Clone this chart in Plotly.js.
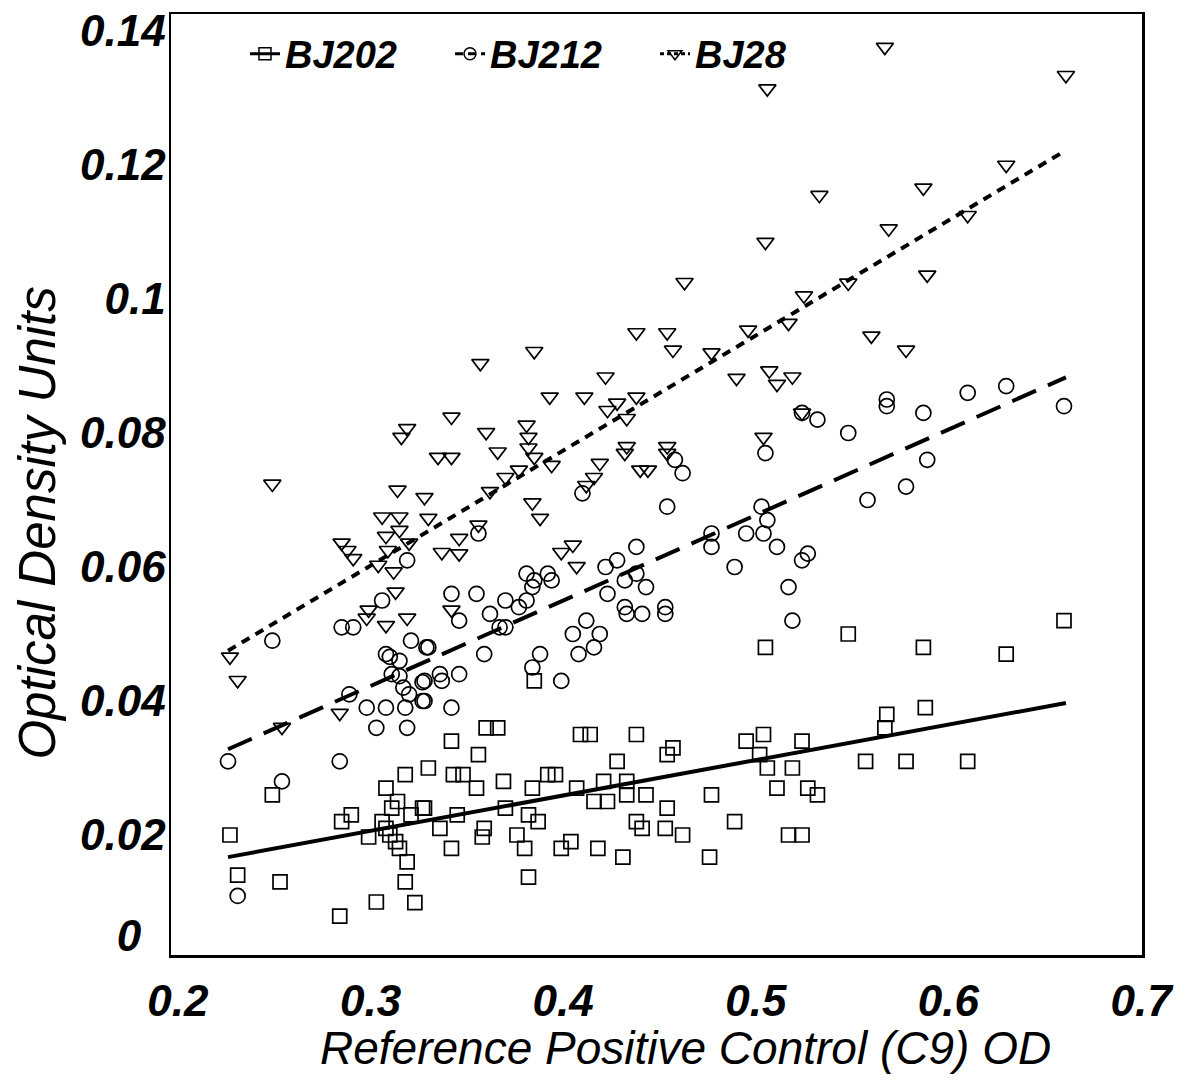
<!DOCTYPE html>
<html><head><meta charset="utf-8">
<script src="https://cdn.plot.ly/plotly-3.0.1.min.js"></script>
<style>html,body{margin:0;padding:0;background:#fff}</style>
</head><body><div id="chart" style="width:1192px;height:1088px"></div>
<script>
const seriesNames = ['BJ202', 'BJ212', 'BJ28'];
const xTitle = 'Reference Positive Control (C9) OD';
const yTitle = 'Optical Density Units';

const bj202X = [0.227,0.231,0.253,0.249,0.284,0.303,0.323,0.285,0.290,0.299,0.308,0.318,0.330,0.314,0.311,0.327,0.321,0.306,0.308,0.310,0.313,0.315,0.319,0.318,0.360,0.366,0.342,0.356,0.343,0.348,0.355,0.369,0.384,0.392,0.396,0.328,0.345,0.336,0.370,0.382,0.387,0.359,0.358,0.342,0.376,0.380,0.382,0.399,0.404,0.418,0.431,0.407,0.416,0.423,0.421,0.433,0.433,0.443,0.409,0.414,0.438,0.428,0.454,0.457,0.438,0.441,0.453,0.454,0.462,0.385,0.505,0.548,0.587,0.630,0.660,0.588,0.568,0.567,0.504,0.495,0.502,0.524,0.506,0.519,0.557,0.578,0.610,0.511,0.527,0.532,0.477,0.489,0.517,0.524,0.476];
const bj202Y = [0.0200,0.0140,0.0130,0.0260,0.0079,0.0100,0.0099,0.0220,0.0230,0.0197,0.0270,0.0290,0.0300,0.0250,0.0240,0.0240,0.0230,0.0220,0.0210,0.0200,0.0190,0.0180,0.0160,0.0130,0.0360,0.0360,0.0340,0.0320,0.0290,0.0290,0.0270,0.0280,0.0270,0.0290,0.0290,0.0240,0.0230,0.0210,0.0240,0.0230,0.0220,0.0210,0.0197,0.0180,0.0200,0.0180,0.0137,0.0180,0.0190,0.0180,0.0167,0.0270,0.0250,0.0250,0.0280,0.0280,0.0260,0.0260,0.0350,0.0350,0.0350,0.0310,0.0320,0.0330,0.0220,0.0210,0.0210,0.0240,0.0200,0.0430,0.0480,0.0500,0.0480,0.0470,0.0520,0.0390,0.0380,0.0360,0.0350,0.0340,0.0320,0.0340,0.0300,0.0300,0.0310,0.0310,0.0310,0.0270,0.0270,0.0260,0.0260,0.0220,0.0200,0.0200,0.0167];

const bj212X = [0.226,0.231,0.254,0.284,0.289,0.298,0.303,0.308,0.319,0.318,0.310,0.315,0.311,0.315,0.317,0.320,0.327,0.327,0.249,0.285,0.291,0.306,0.319,0.321,0.308,0.329,0.410,0.454,0.458,0.462,0.356,0.342,0.355,0.346,0.362,0.370,0.377,0.381,0.381,0.385,0.384,0.392,0.394,0.367,0.370,0.330,0.359,0.388,0.405,0.412,0.419,0.416,0.408,0.422,0.428,0.438,0.423,0.432,0.438,0.443,0.432,0.433,0.441,0.453,0.453,0.384,0.399,0.346,0.336,0.328,0.337,0.328,0.342,0.524,0.532,0.548,0.568,0.568,0.587,0.610,0.630,0.660,0.505,0.589,0.578,0.558,0.503,0.506,0.495,0.504,0.511,0.527,0.524,0.477,0.477,0.489,0.517,0.519];
const bj212Y = [0.0310,0.0109,0.0280,0.0310,0.0410,0.0390,0.0360,0.0390,0.0360,0.0390,0.0466,0.0460,0.0440,0.0437,0.0420,0.0410,0.0428,0.0400,0.0490,0.0510,0.0510,0.0550,0.0610,0.0490,0.0470,0.0480,0.0710,0.0690,0.0760,0.0740,0.0650,0.0560,0.0560,0.0520,0.0530,0.0550,0.0540,0.0550,0.0590,0.0580,0.0570,0.0590,0.0580,0.0510,0.0510,0.0480,0.0470,0.0470,0.0500,0.0520,0.0500,0.0480,0.0470,0.0600,0.0610,0.0630,0.0560,0.0580,0.0590,0.0570,0.0540,0.0530,0.0530,0.0540,0.0530,0.0450,0.0430,0.0440,0.0440,0.0430,0.0430,0.0400,0.0390,0.0830,0.0820,0.0800,0.0850,0.0840,0.0830,0.0860,0.0870,0.0840,0.0770,0.0760,0.0720,0.0700,0.0690,0.0670,0.0650,0.0650,0.0630,0.0620,0.0610,0.0630,0.0650,0.0600,0.0570,0.0520];

const bj28X = [0.567,0.661,0.506,0.533,0.587,0.630,0.610,0.569,0.505,0.463,0.589,0.548,0.525,0.560,0.517,0.578,0.496,0.477,0.490,0.507,0.511,0.519,0.524,0.504,0.385,0.357,0.438,0.454,0.457,0.422,0.393,0.411,0.438,0.428,0.423,0.433,0.342,0.360,0.381,0.382,0.382,0.385,0.366,0.335,0.342,0.394,0.377,0.370,0.362,0.433,0.432,0.454,0.454,0.440,0.444,0.419,0.416,0.412,0.384,0.388,0.328,0.330,0.356,0.346,0.337,0.346,0.399,0.405,0.407,0.342,0.319,0.316,0.249,0.314,0.306,0.315,0.315,0.308,0.309,0.320,0.285,0.288,0.291,0.304,0.312,0.313,0.299,0.298,0.308,0.319,0.227,0.231,0.254,0.284];
const bj28Y = [0.1376,0.1334,0.1314,0.1155,0.1166,0.1200,0.1125,0.1105,0.1085,0.1025,0.1036,0.1024,0.1005,0.0945,0.0964,0.0924,0.0954,0.0920,0.0882,0.0893,0.0873,0.0884,0.0830,0.0794,0.0922,0.0904,0.0950,0.0950,0.0924,0.0884,0.0854,0.0854,0.0854,0.0845,0.0834,0.0822,0.0824,0.0801,0.0812,0.0794,0.0778,0.0764,0.0772,0.0764,0.0764,0.0752,0.0745,0.0734,0.0713,0.0780,0.0770,0.0780,0.0770,0.0745,0.0745,0.0755,0.0734,0.0722,0.0696,0.0673,0.0704,0.0673,0.0663,0.0643,0.0622,0.0620,0.0622,0.0633,0.0601,0.0536,0.0807,0.0794,0.0724,0.0715,0.0675,0.0675,0.0655,0.0646,0.0625,0.0636,0.0636,0.0625,0.0613,0.0603,0.0593,0.0563,0.0536,0.0524,0.0513,0.0524,0.0466,0.0431,0.0361,0.0382];

// regression lines as drawn in the figure (end points)
const fitX = [0.226, 0.661];
const fit202 = [0.0167, 0.0397];
const fit212 = [0.0328, 0.0883];
const fit28 = [0.0475, 0.1222];

const xTickVals = [0.2, 0.3, 0.4, 0.5, 0.6, 0.7];
const xTickText = ['0.2', '0.3', '0.4', '0.5', '0.6', '0.7'];
const yTickVals = [0.005, 0.02, 0.04, 0.06, 0.08, 0.10, 0.12, 0.14];
const yTickText = ['0\u00a0\u00a0', '0.02', '0.04', '0.06', '0.08', '0.1', '0.12', '0.14'];

const FONT = 'Liberation Sans, Arial, Helvetica, sans-serif';
const symbols = ['square-open', 'circle-open', 'triangle-down-open'];
const dashes = ['solid', '26px,13px', '9px,7px'];
const xs = [bj202X, bj212X, bj28X];
const ys = [bj202Y, bj212Y, bj28Y];
const fits = [fit202, fit212, fit28];

const traces = [];
for (let i = 0; i < 3; i++) {
  traces.push({
    type: 'scatter', mode: 'markers', x: xs[i], y: ys[i], name: seriesNames[i],
    showlegend: false, hoverinfo: 'x+y',
    marker: {symbol: symbols[i], size: i === 0 ? 14 : 15, color: '#000', line: {color: '#000', width: 1.7}}
  });
  traces.push({
    type: 'scatter', mode: 'lines', x: fitX, y: fits[i], name: seriesNames[i] + ' fit',
    showlegend: false, hoverinfo: 'skip',
    line: {color: '#000', width: 4, dash: dashes[i]}
  });
}
for (let i = 0; i < 3; i++) {
  traces.push({
    type: 'scatter', mode: 'lines+markers', x: [null], y: [null], name: seriesNames[i],
    showlegend: true,
    marker: {symbol: symbols[i], size: 12, color: '#000', line: {color: '#000', width: 1.5}},
    line: {color: '#000', width: 3, dash: i === 0 ? 'solid' : (i === 1 ? '8px,5px' : '4px,3px')}
  });
}

const tickFont = {family: FONT, size: 44, color: '#000', weight: 'bold', style: 'italic'};
const layout = {
  width: 1192, height: 1088,
  paper_bgcolor: '#fff', plot_bgcolor: '#fff',
  margin: {l: 171, r: 50, t: 14, b: 133},
  showlegend: true,
  legend: {
    orientation: 'h', x: 0.0762, y: 0.991, xanchor: 'left', yanchor: 'top',
    bgcolor: 'rgba(0,0,0,0)', borderwidth: 0,
    font: {family: FONT, size: 38, color: '#000', weight: 'bold', style: 'italic'},
    itemwidth: 30, tracegroupgap: 0, entrywidth: 160, entrywidthmode: 'pixels'
  },
  xaxis: {
    range: [0.1964, 0.7005], tickvals: xTickVals, ticktext: xTickText,
    showgrid: false, zeroline: false, showline: true, mirror: true,
    linecolor: '#000', linewidth: 2.5, ticks: '', ticklabelstandoff: 6,
    tickfont: tickFont
  },
  yaxis: {
    range: [0.00209, 0.14254], tickvals: yTickVals, ticktext: yTickText,
    showgrid: false, zeroline: false, showline: true, mirror: true,
    linecolor: '#000', linewidth: 2.5, ticks: '', ticklabelstandoff: -6,
    tickfont: tickFont
  },
  annotations: [
    {text: xTitle, xref: 'paper', yref: 'paper', x: 0.530, y: -0.0988,
     xanchor: 'center', yanchor: 'middle', showarrow: false,
     font: {family: FONT, size: 46, color: '#000', style: 'italic'}},
    {text: yTitle, xref: 'paper', yref: 'paper', x: -0.1375, y: 0.459,
     xanchor: 'center', yanchor: 'middle', showarrow: false, textangle: -90,
     font: {family: FONT, size: 51, color: '#000', style: 'italic'}}
  ]
};

Plotly.newPlot('chart', traces, layout, {displayModeBar: false, staticPlot: true});
</script>
</body></html>
